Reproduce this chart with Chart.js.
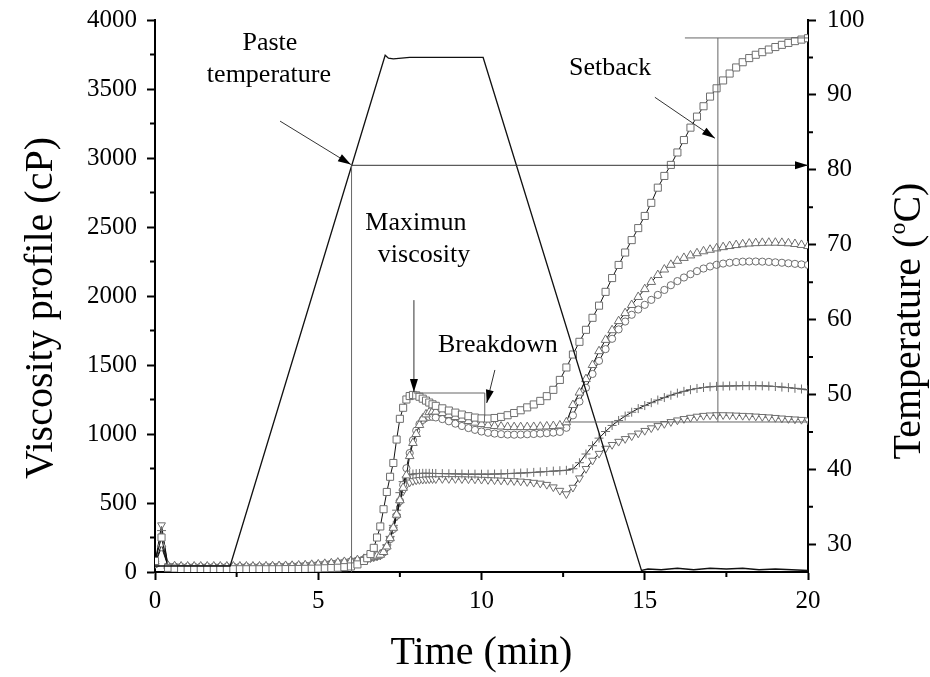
<!DOCTYPE html>
<html>
<head>
<meta charset="utf-8">
<script src="https://cdn.jsdelivr.net/npm/chart.js@4.4.0/dist/chart.umd.min.js"></script>
<style>
  html, body { margin: 0; padding: 0; background: #fff; }
  #wrap { width: 930px; height: 677px; }
</style>
</head>
<body>
<div id="wrap"><canvas id="rvaChart" width="930" height="677"></canvas></div>
<script>
// sampling times (min)
const time = [0, 0.2, 0.4, 0.6, 0.8, 1, 1.2, 1.4, 1.6, 1.8, 2, 2.2, 2.4, 2.6, 2.8, 3, 3.2, 3.4, 3.6, 3.8, 4, 4.2, 4.4, 4.6, 4.8, 5, 5.2, 5.4, 5.6, 5.8, 6, 6.2, 6.4,
  6.5, 6.6, 6.7, 6.8, 6.9, 7, 7.1, 7.2, 7.3, 7.4, 7.5, 7.6, 7.7, 7.8, 7.9, 8, 8.1, 8.2, 8.3, 8.4, 8.5, 8.6,
  8.8, 9, 9.2, 9.4, 9.6, 9.8, 10, 10.2, 10.4, 10.6, 10.8, 11, 11.2, 11.4, 11.6, 11.8, 12, 12.2, 12.4, 12.6, 12.8, 13, 13.2, 13.4, 13.6, 13.8,
  14, 14.2, 14.4, 14.6, 14.8, 15, 15.2, 15.4, 15.6, 15.8, 16, 16.2, 16.4, 16.6, 16.8, 17, 17.2, 17.4, 17.6, 17.8, 18, 18.2, 18.4, 18.6, 18.8,
  19, 19.2, 19.4, 19.6, 19.8, 20];

// viscosity (cP), squares
const viscSquare = [80, 250, 30, 25, 22, 20, 20, 20, 20, 20, 20, 20, 20, 20, 20, 20, 20, 20, 20, 20, 21, 21, 22, 23, 24, 25, 27, 29, 31, 35, 40, 55, 80,
  100, 130, 175, 250, 330, 455, 580, 690, 790, 960, 1110, 1190, 1250, 1275, 1283, 1280, 1270, 1256, 1242, 1228, 1215, 1204,
  1186, 1170, 1155, 1141, 1129, 1119, 1113, 1112, 1116, 1124, 1136, 1152, 1172, 1193, 1214, 1240, 1274, 1320, 1392, 1482, 1576, 1668, 1755, 1842, 1930, 2030,
  2130, 2225, 2315, 2405, 2492, 2580, 2675, 2785, 2870, 2950, 3040, 3130, 3220, 3300, 3375, 3445, 3505, 3562, 3612, 3656, 3694, 3724, 3748, 3767, 3786,
  3804, 3820, 3834, 3847, 3858, 3868];

// viscosity (cP), up triangles
const viscTriangle = [60, 200, 45, 42, 40, 40, 40, 40, 40, 40, 40, 40, 40, 40, 40, 40, 40, 41, 42, 43, 44, 45, 47, 49, 52, 55, 59, 63, 68, 73, 79, 86, 95,
  100, 106, 112, 118, 125, 145, 185, 245, 320, 415, 520, 610, 700, 840, 935, 1000, 1065, 1112, 1142, 1158, 1163, 1162,
  1152, 1138, 1123, 1108, 1094, 1082, 1072, 1064, 1058, 1054, 1051, 1050, 1050, 1050, 1051, 1053, 1055, 1058, 1062, 1085, 1210, 1300, 1398, 1500, 1600, 1682,
  1752, 1818, 1876, 1935, 1993, 2050, 2102, 2152, 2192, 2226, 2255, 2276, 2294, 2310, 2324, 2335, 2345, 2354, 2362, 2369, 2375, 2380, 2383, 2385, 2386,
  2386, 2385, 2382, 2377, 2370, 2362];

// viscosity (cP), circles
const viscCircle = [55, 180, 42, 40, 38, 38, 38, 38, 38, 38, 38, 38, 38, 38, 38, 38, 38, 39, 40, 41, 42, 43, 45, 47, 50, 53, 57, 61, 66, 71, 77, 84, 92,
  97, 103, 109, 115, 122, 142, 180, 238, 312, 408, 515, 632, 752, 862, 955, 1025, 1072, 1102, 1118, 1124, 1124, 1120,
  1108, 1092, 1075, 1058, 1043, 1030, 1018, 1009, 1003, 999, 996, 995, 996, 998, 1000, 1003, 1006, 1010, 1015, 1045, 1135, 1235, 1335, 1435, 1530, 1615,
  1690, 1758, 1815, 1864, 1902, 1936, 1972, 2008, 2044, 2078, 2108, 2134, 2158, 2180, 2199, 2214, 2226, 2235, 2241, 2246, 2249, 2250, 2250, 2249, 2247,
  2244, 2241, 2237, 2233, 2229, 2225];

// viscosity (cP), plus signs
const viscPlus = [60, 300, 44, 41, 39, 39, 39, 39, 39, 39, 39, 39, 39, 39, 39, 39, 39, 40, 41, 42, 43, 44, 46, 48, 51, 54, 58, 62, 67, 72, 78, 85, 93,
  98, 104, 110, 116, 124, 150, 195, 258, 338, 448, 575, 655, 690, 704, 710, 713, 714, 715, 715, 715, 714, 714,
  713, 712, 711, 710, 709, 709, 709, 709, 710, 711, 713, 715, 717, 719, 722, 725, 728, 731, 734, 737, 748, 792, 855, 915, 970, 1018,
  1062, 1098, 1130, 1158, 1184, 1206, 1227, 1246, 1264, 1281, 1296, 1309, 1321, 1330, 1337, 1342, 1345, 1347, 1348, 1349, 1350, 1350, 1350, 1349, 1347,
  1344, 1340, 1336, 1331, 1326, 1320];

// viscosity (cP), down triangles
const viscDown = [60, 340, 42, 40, 38, 38, 38, 38, 38, 38, 38, 38, 38, 38, 38, 38, 38, 39, 40, 41, 42, 43, 45, 47, 50, 53, 57, 61, 66, 71, 77, 84, 92,
  96, 102, 108, 114, 120, 142, 182, 238, 310, 402, 505, 585, 630, 650, 660, 665, 668, 670, 672, 673, 674, 674,
  675, 675, 675, 674, 673, 672, 670, 668, 666, 664, 662, 660, 657, 653, 648, 642, 633, 615, 590, 565, 612, 680, 748, 808, 858, 895,
  922, 945, 965, 985, 1005, 1024, 1043, 1059, 1074, 1088, 1100, 1110, 1119, 1127, 1133, 1136, 1138, 1138, 1137, 1135, 1133, 1131, 1128, 1125, 1122,
  1118, 1114, 1110, 1107, 1104, 1100];

// temperature profile (°C)
const tempTime = [0, 2.3, 7.05, 7.15, 7.3, 7.8, 8.5, 10.05, 14.9, 15.1, 15.5, 16, 16.5, 17, 17.5, 18, 18.5, 19, 19.5, 20];
const tempValues = [27.1, 27.1, 95.3, 94.9, 94.8, 95.0, 95.0, 95.0, 26.5, 26.7, 26.6, 26.8, 26.6, 26.8, 26.7, 26.8, 26.6, 26.7, 26.6, 26.5];

// axis ticks
const xTicks = [0, 5, 10, 15, 20];
const xMinorTicks = [2.5, 7.5, 12.5, 17.5];
const viscTicks = [0, 500, 1000, 1500, 2000, 2500, 3000, 3500, 4000];
const viscMinorTicks = [250, 750, 1250, 1750, 2250, 2750, 3250, 3750];
const tempTicks = [30, 40, 50, 60, 70, 80, 90, 100];
const tempMinorTicks = [35, 45, 55, 65, 75, 85, 95];

// annotation guides, in data units
const guides = [
  { x1: 6.02, y1: 26.3, x2: 6.02, y2: 80.6, axis: 'y2' },
  { x1: 6.02, y1: 80.6, x2: 20, y2: 80.6, axis: 'y2', arrow: true },
  { x1: 3.83, y1: 86.5, x2: 6.0, y2: 80.7, axis: 'y2', arrow: true },
  { x1: 7.93, y1: 1970, x2: 7.93, y2: 1305, axis: 'y', arrow: true },
  { x1: 7.93, y1: 1297, x2: 10.1, y2: 1297, axis: 'y' },
  { x1: 10.1, y1: 1297, x2: 10.1, y2: 1128, axis: 'y' },
  { x1: 10.41, y1: 1464, x2: 10.16, y2: 1225, axis: 'y', arrow: true },
  { x1: 12.55, y1: 1087, x2: 20, y2: 1087, axis: 'y' },
  { x1: 17.24, y1: 1087, x2: 17.24, y2: 3870, axis: 'y' },
  { x1: 16.23, y1: 3870, x2: 20, y2: 3870, axis: 'y' },
  { x1: 15.31, y1: 3440, x2: 17.15, y2: 3143, axis: 'y', arrow: true }
];
const notes = [
  { text: 'Paste', x: 3.52, y: 3783 },
  { text: 'temperature', x: 3.49, y: 3551 },
  { text: 'Maximun', x: 7.99, y: 2478 },
  { text: 'viscosity', x: 8.24, y: 2246 },
  { text: 'Breakdown', x: 10.5, y: 1594 },
  { text: 'Setback', x: 13.94, y: 3601 }
];

const serif = "'Liberation Serif', 'Times New Roman', serif";

function pairs(xs, ys) {
  return xs.map((x, i) => ({ x: x, y: ys[i] }));
}

function viscSet(label, values, style, radius, rotation) {
  return {
    label: label,
    data: pairs(time, values),
    yAxisID: 'y',
    showLine: true,
    borderColor: '#111',
    borderWidth: 1,
    pointStyle: style,
    pointRadius: radius,
    pointRotation: rotation || 0,
    pointBorderColor: '#6e6e6e',
    pointBackgroundColor: '#fff',
    pointBorderWidth: 1
  };
}

const extras = {
  id: 'extras',
  afterDraw(chart) {
    const ctx = chart.ctx;
    const sx = chart.scales.x, sy = chart.scales.y, st = chart.scales.y2;
    const area = chart.chartArea;
    ctx.save();

    // minor ticks
    ctx.strokeStyle = '#000';
    ctx.lineWidth = 2;
    ctx.beginPath();
    xMinorTicks.forEach(v => {
      const p = sx.getPixelForValue(v);
      ctx.moveTo(p, area.bottom); ctx.lineTo(p, area.bottom + 5);
    });
    viscMinorTicks.forEach(v => {
      const p = sy.getPixelForValue(v);
      ctx.moveTo(area.left, p); ctx.lineTo(area.left - 5, p);
    });
    tempMinorTicks.forEach(v => {
      const p = st.getPixelForValue(v);
      ctx.moveTo(area.right, p); ctx.lineTo(area.right + 5, p);
    });
    ctx.stroke();

    // guide lines and arrows
    guides.forEach(g => {
      const ys = g.axis === 'y2' ? st : sy;
      const x1 = sx.getPixelForValue(g.x1), y1 = ys.getPixelForValue(g.y1);
      const x2 = sx.getPixelForValue(g.x2), y2 = ys.getPixelForValue(g.y2);
      ctx.strokeStyle = g.arrow ? '#333' : '#666';
      ctx.lineWidth = 1;
      ctx.beginPath();
      ctx.moveTo(x1, y1); ctx.lineTo(x2, y2);
      ctx.stroke();
      if (g.arrow) {
        const a = Math.atan2(y2 - y1, x2 - x1);
        const L = 13, W = 4;
        ctx.fillStyle = '#000';
        ctx.beginPath();
        ctx.moveTo(x2, y2);
        ctx.lineTo(x2 - L * Math.cos(a) + W * Math.sin(a), y2 - L * Math.sin(a) - W * Math.cos(a));
        ctx.lineTo(x2 - L * Math.cos(a) - W * Math.sin(a), y2 - L * Math.sin(a) + W * Math.cos(a));
        ctx.closePath();
        ctx.fill();
      }
    });

    // annotation text
    ctx.fillStyle = '#000';
    ctx.font = '26px ' + serif;
    ctx.textAlign = 'center';
    ctx.textBaseline = 'alphabetic';
    notes.forEach(n => ctx.fillText(n.text, sx.getPixelForValue(n.x), sy.getPixelForValue(n.y)));

    // axis titles
    ctx.font = '40px ' + serif;
    ctx.fillText('Time (min)', (area.left + area.right) / 2, 664);

    ctx.save();
    ctx.translate(52, 308);
    ctx.rotate(-Math.PI / 2);
    ctx.fillText('Viscosity profile (cP)', 0, 0);
    ctx.restore();

    ctx.save();
    ctx.translate(920, 321);
    ctx.rotate(-Math.PI / 2);
    const p1 = 'Temperature (', p2 = 'o', p3 = 'C)';
    ctx.font = '40px ' + serif;
    const w1 = ctx.measureText(p1).width, w3 = ctx.measureText(p3).width;
    ctx.font = '24px ' + serif;
    const w2 = ctx.measureText(p2).width;
    const x0 = -(w1 + w2 + w3) / 2;
    ctx.textAlign = 'left';
    ctx.font = '40px ' + serif;
    ctx.fillText(p1, x0, 0);
    ctx.font = '24px ' + serif;
    ctx.fillText(p2, x0 + w1, -15);
    ctx.font = '40px ' + serif;
    ctx.fillText(p3, x0 + w1 + w2, 0);
    ctx.restore();

    ctx.restore();
  }
};

const tickFont = { family: serif, size: 25 };
const axisGrid = { drawOnChartArea: false, drawTicks: true, tickLength: 8, tickColor: '#000', tickWidth: 2 };
const axisBorder = { display: true, color: '#000', width: 2 };
const plainLabel = v => String(v);

new Chart(document.getElementById('rvaChart'), {
  type: 'scatter',
  data: {
    datasets: [
      {
        label: 'Temperature',
        data: pairs(tempTime, tempValues),
        yAxisID: 'y2',
        showLine: true,
        borderColor: '#111',
        borderWidth: 1.3,
        pointRadius: 0
      },
      viscSet('Sample 1', viscSquare, 'rect', 5),
      viscSet('Sample 2', viscTriangle, 'triangle', 5),
      viscSet('Sample 3', viscCircle, 'circle', 3.6),
      viscSet('Sample 4', viscPlus, 'cross', 4.5),
      viscSet('Sample 5', viscDown, 'triangle', 4.5, 180)
    ]
  },
  options: {
    responsive: false,
    animation: false,
    events: [],
    layout: { padding: { top: 20, left: 0, right: 0, bottom: 0 } },
    plugins: {
      legend: { display: false },
      tooltip: { enabled: false }
    },
    scales: {
      x: {
        type: 'linear',
        position: 'bottom',
        min: 0,
        max: 20,
        afterBuildTicks: s => { s.ticks = xTicks.map(v => ({ value: v })); },
        afterFit: s => { s.height = 105; s.paddingLeft = 0; s.paddingRight = 0; },
        ticks: { font: tickFont, color: '#000', padding: 6, autoSkip: false, maxRotation: 0, callback: plainLabel },
        grid: axisGrid,
        border: axisBorder
      },
      y: {
        type: 'linear',
        position: 'left',
        min: 0,
        max: 4000,
        afterBuildTicks: s => { s.ticks = viscTicks.map(v => ({ value: v })); },
        afterFit: s => { s.width = 155; s.paddingTop = 0; s.paddingBottom = 0; },
        ticks: { font: tickFont, color: '#000', padding: 10, autoSkip: false, callback: plainLabel },
        grid: axisGrid,
        border: axisBorder
      },
      y2: {
        type: 'linear',
        position: 'right',
        min: 26.3,
        max: 100,
        afterBuildTicks: s => { s.ticks = tempTicks.map(v => ({ value: v })); },
        afterFit: s => { s.width = 122; s.paddingTop = 0; s.paddingBottom = 0; },
        ticks: { font: tickFont, color: '#000', padding: 11, autoSkip: false, callback: plainLabel },
        grid: axisGrid,
        border: axisBorder
      }
    }
  },
  plugins: [extras]
});
</script>
</body>
</html>
